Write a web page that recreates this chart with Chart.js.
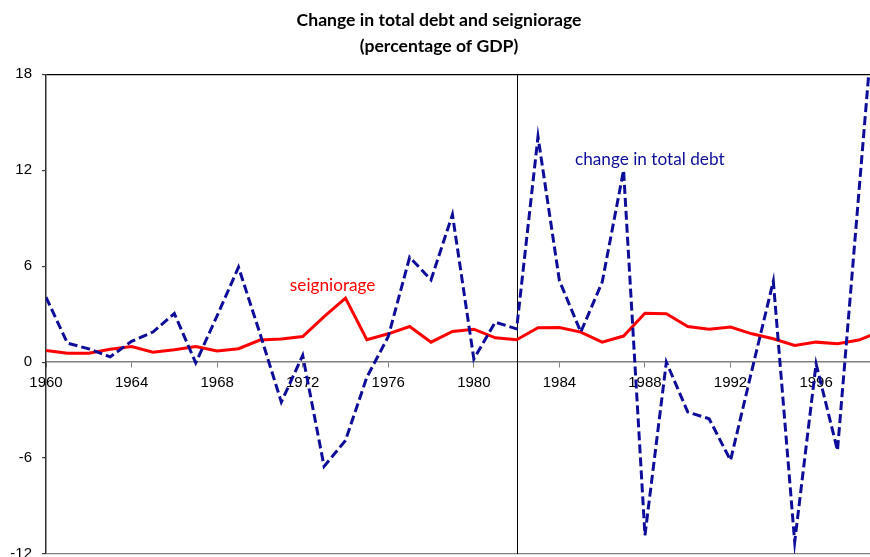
<!DOCTYPE html>
<html>
<head>
<meta charset="utf-8">
<script src="https://cdn.jsdelivr.net/npm/chart.js@4.4.1/dist/chart.umd.min.js"></script>
<style>
  html, body { margin: 0; padding: 0; background: #ffffff; overflow: hidden; }
  #wrap { width: 870px; height: 557px; }
</style>
</head>
<body>
<div id="wrap"><canvas id="c" width="870" height="557"></canvas></div>
<script>
// ---- data ----
const years = [1960,1961,1962,1963,1964,1965,1966,1967,1968,1969,
               1970,1971,1972,1973,1974,1975,1976,1977,1978,1979,
               1980,1981,1982,1983,1984,1985,1986,1987,1988,1989,
               1990,1991,1992,1993,1994,1995,1996,1997,1998,1999];
const changeInTotalDebt = [4.06,1.19,0.83,0.33,1.3,1.88,3.04,-0.05,2.9,5.94,
                           1.8,-2.5,0.42,-6.52,-4.9,-0.94,1.6,6.56,5.15,9.23,
                           0.2,2.5,2.08,14.1,5.1,1.88,5.0,12.0,-10.83,0.0,
                           -3.12,-3.54,-6.14,-0.5,5.06,-11.25,-0.1,-5.52,10.6,26.7];
const seigniorage = [0.73,0.56,0.56,0.8,0.98,0.62,0.78,0.98,0.69,0.84,
                     1.38,1.44,1.6,2.85,4.0,1.4,1.77,2.23,1.25,1.92,
                     2.06,1.52,1.4,2.15,2.17,1.88,1.25,1.63,3.06,3.02,
                     2.23,2.06,2.19,1.77,1.46,1.04,1.25,1.15,1.38,1.9];
const xTickYears = [1960,1964,1968,1972,1976,1980,1984,1988,1992,1996];
const yTickValues = [-12,-6,0,6,12,18];
const dividerYear = 1982;
const titleLines = ['Change in total debt and seigniorage', '(percentage of GDP)'];
const seriesLabels = ['change in total debt', 'seigniorage'];
// label anchor positions in data units: [year, value]
const debtLabelAt = [1984.73, 12.7];
const seignLabelAt = [1971.4, 4.8];

const toPoints = (vals) => years.map((yr, i) => ({ x: yr, y: vals[i] }));

const notesPlugin = {
  id: 'notes',
  beforeDatasetsDraw(chart) {
    const { ctx, chartArea, scales: { x } } = chart;
    const px = Math.round(x.getPixelForValue(dividerYear)) + 0.5;
    ctx.save();
    ctx.strokeStyle = '#000000';
    ctx.lineWidth = 1;
    ctx.beginPath();
    ctx.moveTo(px, chartArea.top);
    ctx.lineTo(px, chartArea.bottom);
    ctx.stroke();
    ctx.restore();
  },
  afterDatasetsDraw(chart) {
    const { ctx, scales: { x, y } } = chart;
    ctx.save();
    ctx.font = '17.2px Lato';
    ctx.textAlign = 'left';
    ctx.textBaseline = 'middle';
    ctx.fillStyle = '#0d0d99';
    ctx.fillText(seriesLabels[0], x.getPixelForValue(debtLabelAt[0]), y.getPixelForValue(debtLabelAt[1]));
    ctx.fillStyle = '#ff0000';
    ctx.fillText(seriesLabels[1], x.getPixelForValue(seignLabelAt[0]), y.getPixelForValue(seignLabelAt[1]));
    ctx.restore();
  }
};

new Chart(document.getElementById('c'), {
  type: 'line',
  data: {
    datasets: [
      {
        label: seriesLabels[0],
        data: toPoints(changeInTotalDebt),
        borderColor: '#0d0d99',
        borderWidth: 3,
        borderDash: [9, 4],
        pointRadius: 0,
        tension: 0,
        fill: false
      },
      {
        label: seriesLabels[1],
        data: toPoints(seigniorage),
        borderColor: '#ff0000',
        borderWidth: 3,
        pointRadius: 0,
        tension: 0,
        fill: false
      }
    ]
  },
  options: {
    responsive: false,
    animation: false,
    devicePixelRatio: 1,
    layout: { autoPadding: false, padding: { left: 8, right: 0, top: 0, bottom: 3 } },
    plugins: {
      legend: { display: false },
      tooltip: { enabled: false },
      title: {
        display: true,
        text: titleLines,
        color: '#000000',
        font: { family: 'Lato', size: 17.6, weight: 'bold', lineHeight: 1.5 },
        padding: { top: 7, bottom: 14.5 }
      }
    },
    scales: {
      x: {
        type: 'linear',
        position: { y: 0 },
        min: 1960,
        max: 1998.52,
        afterFit: (s) => { s.height = 0; s.paddingLeft = 0; s.paddingRight = 0; s.paddingTop = 0; s.paddingBottom = 0; },
        afterBuildTicks: (s) => { s.ticks = xTickYears.map(v => ({ value: v })); },
        ticks: {
          autoSkip: false,
          maxRotation: 0,
          padding: 7,
          color: '#000000',
          font: { family: 'Liberation Sans', size: 15 },
          callback: (v) => String(v)
        },
        grid: { drawOnChartArea: false, drawTicks: true, tickLength: 5, tickColor: '#808080' },
        border: { display: true, color: '#808080', width: 1.5 }
      },
      y: {
        type: 'linear',
        min: -12,
        max: 18,
        afterFit: (s) => { s.width = 38; s.paddingTop = 0; s.paddingBottom = 0; },
        afterBuildTicks: (s) => { s.ticks = yTickValues.map(v => ({ value: v })); },
        ticks: {
          padding: 10,
          color: '#000000',
          font: { family: 'Liberation Sans', size: 15 },
          callback: (v) => String(v)
        },
        grid: {
          drawOnChartArea: true,
          drawTicks: true,
          tickLength: 4,
          tickColor: '#404040',
          lineWidth: 1.2,
          color: (c) => (c.tick && c.tick.value === 18) ? '#000000' : (c.tick && c.tick.value === -12 ? '#808080' : 'rgba(0,0,0,0)')
        },
        border: { display: true, color: '#303030', width: 1.5 }
      }
    }
  },
  plugins: [notesPlugin]
});
</script>
</body>
</html>
